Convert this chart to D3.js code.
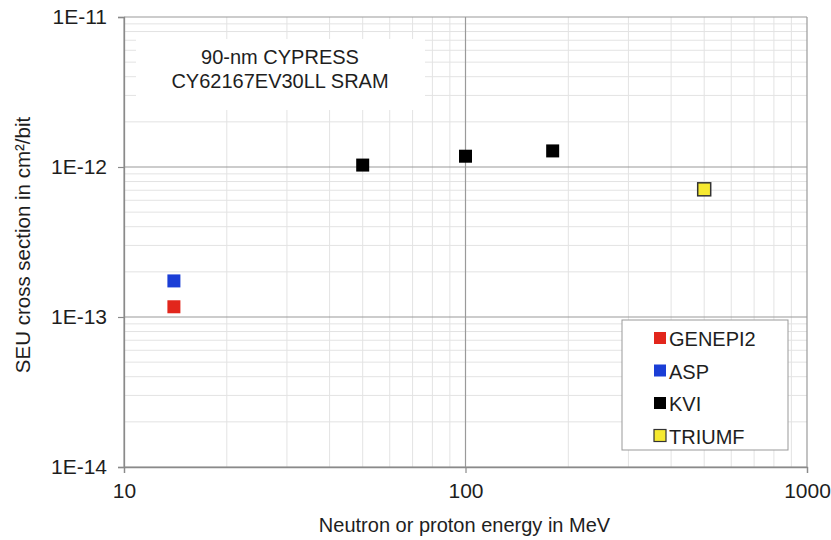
<!DOCTYPE html>
<html lang="en">
<head>
<meta charset="UTF-8">
<title>SEU cross section</title>
<script src="https://d3js.org/d3.v7.min.js"></script>
<style>
  body { margin: 0; background: #fff; }
  svg text { font-family: "Liberation Sans", Arial, sans-serif; fill: #1e1e1e; }
</style>
</head>
<body>
<svg id="chart" width="831" height="540"></svg>
<script>
// series data (energy in MeV, cross section in cm2/bit)
const seriesNames = ["GENEPI2", "ASP", "KVI", "TRIUMF"];
const seriesColors = ["#e2261c", "#1b3ed6", "#000000", "#f6e930"];
const genepi2 = [[14, 1.17e-13]];
const asp = [[14, 1.74e-13]];
const kvi = [[50, 1.03e-12], [100, 1.18e-12], [180, 1.28e-12]];
const triumf = [[500, 7.1e-13]];
const xTicks = [10, 100, 1000];
const yTicks = [1e-14, 1e-13, 1e-12, 1e-11];
const yTickLabels = ["1E-14", "1E-13", "1E-12", "1E-11"];

const allSeries = [genepi2, asp, kvi, triumf];

const svg = d3.select("#chart");
const plotLeft = 124, plotRight = 807, plotTop = 17, plotBottom = 467;

const x = d3.scaleLog().domain([10, 1000]).range([plotLeft, plotRight]);
const y = d3.scaleLog().domain([1e-14, 1e-11]).range([plotBottom, plotTop]);

// minor grid
const minorX = [], minorY = [];
[10, 100].forEach(d => { for (let k = 2; k <= 9; k++) minorX.push(d * k); });
[1e-14, 1e-13, 1e-12].forEach(d => { for (let k = 2; k <= 9; k++) minorY.push(d * k); });

const grid = svg.append("g");
grid.selectAll(".mx").data(minorX).enter().append("line")
  .attr("x1", d => x(d)).attr("x2", d => x(d))
  .attr("y1", plotTop).attr("y2", plotBottom)
  .attr("stroke", "#e3e3e3").attr("stroke-width", 1);
grid.selectAll(".my").data(minorY).enter().append("line")
  .attr("x1", plotLeft).attr("x2", plotRight)
  .attr("y1", d => y(d)).attr("y2", d => y(d))
  .attr("stroke", "#e3e3e3").attr("stroke-width", 1);

// major grid
grid.selectAll(".Mx").data(xTicks).enter().append("line")
  .attr("x1", d => x(d)).attr("x2", d => x(d))
  .attr("y1", plotTop).attr("y2", plotBottom)
  .attr("stroke", "#9a9a9a").attr("stroke-width", 1.2);
grid.selectAll(".My").data(yTicks).enter().append("line")
  .attr("x1", plotLeft).attr("x2", plotRight)
  .attr("y1", d => y(d)).attr("y2", d => y(d))
  .attr("stroke", "#9a9a9a").attr("stroke-width", 1.2);

// axes
const xAxis = d3.axisBottom(x).tickValues(xTicks).tickFormat(d3.format("d")).tickSize(6).tickPadding(6);
const yAxis = d3.axisLeft(y).tickValues(yTicks).tickFormat((d, i) => yTickLabels[i]).tickSize(6).tickPadding(11);

const gx = svg.append("g").attr("transform", `translate(0,${plotBottom})`).call(xAxis);
const gy = svg.append("g").attr("transform", `translate(${plotLeft},0)`).call(yAxis);
[gx, gy].forEach(g => {
  g.select(".domain").attr("stroke", "#8a8a8a").attr("stroke-width", 1.3);
  g.selectAll(".tick line").attr("stroke", "#8a8a8a").attr("stroke-width", 1.2);
  g.selectAll(".tick text").attr("font-size", 21).attr("fill", "#1e1e1e")
    .attr("font-family", "Liberation Sans, Arial, sans-serif");
});
gx.selectAll(".tick text").attr("y", 31).attr("dy", null);

// title box
svg.append("rect").attr("x", 136).attr("y", 39).attr("width", 289).attr("height", 71).attr("fill", "#fff");
svg.append("text").attr("x", 280).attr("y", 64).attr("text-anchor", "middle").attr("font-size", 20).text("90-nm CYPRESS");
svg.append("text").attr("x", 280).attr("y", 88).attr("text-anchor", "middle").attr("font-size", 20).text("CY62167EV30LL SRAM");

// markers
const ms = 13;
allSeries.forEach((data, i) => {
  svg.append("g").selectAll("rect").data(data).enter().append("rect")
    .attr("x", d => x(d[0]) - ms / 2).attr("y", d => y(d[1]) - ms / 2)
    .attr("width", ms).attr("height", ms)
    .attr("fill", seriesColors[i])
    .attr("stroke", i === 3 ? "#333" : "none").attr("stroke-width", 1.5);
});

// legend
const lg = svg.append("g");
lg.append("rect").attr("x", 622).attr("y", 320).attr("width", 166).attr("height", 130)
  .attr("fill", "#fff").attr("stroke", "#999").attr("stroke-width", 1);
seriesNames.forEach((name, i) => {
  const cy = 338 + i * 32.5;
  lg.append("rect").attr("x", 654).attr("y", cy - 6).attr("width", 12).attr("height", 12)
    .attr("fill", seriesColors[i]).attr("stroke", i === 3 ? "#333" : "none").attr("stroke-width", 1.2);
  lg.append("text").attr("x", 669).attr("y", cy + 8).attr("font-size", 20).text(name);
});

// axis titles
svg.append("text").attr("x", (plotLeft + plotRight) / 2 - 1).attr("y", 532).attr("text-anchor", "middle")
  .attr("font-size", 20).text("Neutron or proton energy in MeV");
svg.append("text").attr("transform", `translate(30,${(plotTop + plotBottom) / 2 + 3}) rotate(-90)`)
  .attr("text-anchor", "middle").attr("font-size", 20.5).text("SEU cross section in cm²/bit");
</script>
</body>
</html>
